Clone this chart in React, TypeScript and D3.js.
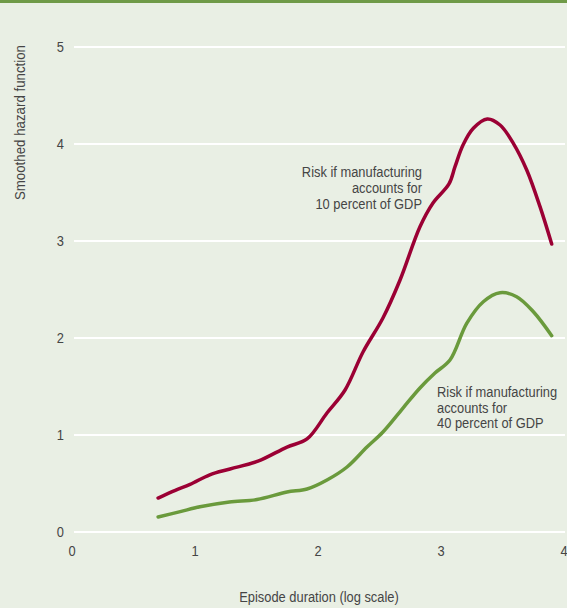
import React from "react";
import * as d3 from "d3";

const xTicks = [0, 1, 2, 3, 4];
const yTicks = [0, 1, 2, 3, 4, 5];

const redX = [0.70, 0.84, 0.96, 1.12, 1.285, 1.512, 1.748, 1.911, 2.073, 2.22, 2.366, 2.528, 2.667, 2.829, 2.935, 3.065, 3.114, 3.179, 3.263, 3.376, 3.48, 3.588, 3.697, 3.805, 3.90];
const redY = [0.35, 0.43, 0.49, 0.59, 0.65, 0.73, 0.876, 0.959, 1.227, 1.464, 1.856, 2.206, 2.598, 3.147, 3.392, 3.588, 3.766, 3.99, 4.162, 4.258, 4.196, 4.007, 3.732, 3.354, 2.969];

const greenX = [0.70, 0.88, 1.04, 1.28, 1.504, 1.748, 1.911, 2.073, 2.236, 2.398, 2.528, 2.691, 2.829, 2.951, 3.073, 3.209, 3.344, 3.48, 3.615, 3.751, 3.90];
const greenY = [0.155, 0.21, 0.26, 0.31, 0.335, 0.412, 0.443, 0.536, 0.67, 0.876, 1.031, 1.278, 1.485, 1.639, 1.773, 2.151, 2.374, 2.467, 2.426, 2.271, 2.024];

const redLabel = ["Risk if manufacturing", "accounts for", "10 percent of GDP"];
const greenLabel = ["Risk if manufacturing", "accounts for", "40 percent of GDP"];

const W = 567;
const H = 608;
const FONT = "'Liberation Sans', Arial, sans-serif";
const SX = 0.92;

function T(props: {
  x: number;
  y: number;
  anchor?: "start" | "middle" | "end";
  rotate?: number;
  size?: number;
  sx?: number;
  children: React.ReactNode;
}) {
  const { x, y, anchor = "start", rotate = 0, size = 14, sx = SX, children } = props;
  return (
    <text
      transform={`translate(${x},${y}) rotate(${rotate}) scale(${sx},1)`}
      textAnchor={anchor}
      fontSize={size}
      fill="#454545"
    >
      {children}
    </text>
  );
}

export default function App() {
  const x = d3.scaleLinear().domain([0, 4]).range([72, 564]);
  const y = d3.scaleLinear().domain([0, 5]).range([532, 47]);
  const line = d3
    .line<[number, number]>()
    .x((d) => x(d[0]))
    .y((d) => y(d[1]))
    .curve(d3.curveCatmullRom.alpha(0.5));
  const red = redX.map((v, i) => [v, redY[i]] as [number, number]);
  const green = greenX.map((v, i) => [v, greenY[i]] as [number, number]);

  return (
    <svg
      width={W}
      height={H}
      style={{ position: "absolute", left: 0, top: 0, display: "block" }}
      fontFamily={FONT}
    >
      <rect x={0} y={0} width={W} height={H} fill="#e9efe4" />
      <rect x={0} y={0} width={W} height={3} fill="#6f9a47" />
      {yTicks.map((t) => (
        <g key={"y" + t}>
          <line x1={74} x2={565} y1={y(t)} y2={y(t)} stroke="#ffffff" strokeWidth={2} />
          <T x={64} y={y(t) + 5} anchor="end">
            {t}
          </T>
        </g>
      ))}
      {xTicks.map((t) => (
        <T key={"x" + t} x={x(t)} y={556} anchor="middle">
          {t}
        </T>
      ))}
      <T x={25} y={45} anchor="end" rotate={-90} sx={0.95}>
        Smoothed hazard function
      </T>
      <T x={319} y={602} anchor="middle">
        Episode duration (log scale)
      </T>
      <path d={line(red) || ""} fill="none" stroke="#9b0034" strokeWidth={3.5} strokeLinecap="round" strokeLinejoin="round" />
      <path d={line(green) || ""} fill="none" stroke="#6a9a3c" strokeWidth={3.5} strokeLinecap="round" strokeLinejoin="round" />
      {redLabel.map((s, i) => (
        <T key={"r" + i} x={422} y={177 + i * 16} anchor="end">
          {s}
        </T>
      ))}
      {greenLabel.map((s, i) => (
        <T key={"g" + i} x={437} y={397 + i * 15.5} anchor="start">
          {s}
        </T>
      ))}
    </svg>
  );
}
